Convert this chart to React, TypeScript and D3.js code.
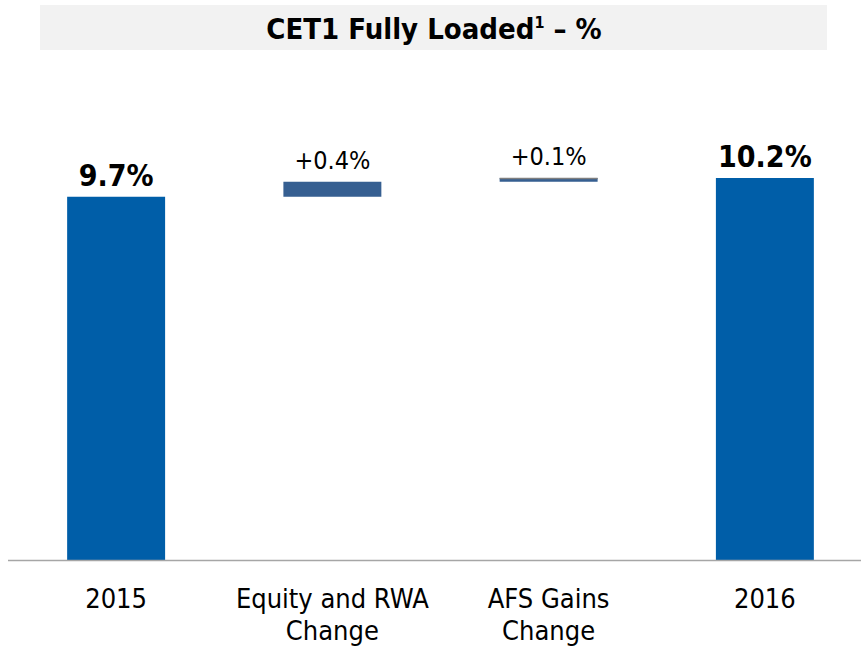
import * as d3 from 'd3';
import { useRef, useEffect } from 'react';

const categories = ['2015', 'Equity and RWA\nChange', 'AFS Gains\nChange', '2016'];
const values = [9.7, 0.4, 0.1, 10.2];
const kinds = ['total', 'delta', 'delta', 'total'];
const valueLabels = ['9.7%', '+0.4%', '+0.1%', '10.2%'];

const App = () => {
  const svgRef = useRef<SVGSVGElement>(null);

  useEffect(() => {
    const svg = d3.select(svgRef.current);
    const width = 861;
    const height = 647;
    const baseY = 560.5;
    const font = '"DejaVu Sans Condensed", "DejaVu Sans", sans-serif';
    const totalBlue = '#005ea8';
    const deltaBlue = '#365f91';

    svg.attr('width', width).attr('height', height);
    svg.selectAll('*').remove();

    // title band
    svg.append('rect')
      .attr('x', 40).attr('y', 5)
      .attr('width', 787).attr('height', 45)
      .attr('fill', '#f2f2f2');

    const title = svg.append('text')
      .attr('x', 434).attr('y', 39)
      .attr('text-anchor', 'middle')
      .style('font-family', font)
      .style('font-size', '29px')
      .style('font-weight', 'bold')
      .attr('fill', '#000');
    title.append('tspan').text('CET1 Fully Loaded');
    title.append('tspan').attr('font-size', '16px').attr('dy', -11).text('1');
    title.append('tspan').attr('dy', 11).text(' – %');

    const x = d3.scaleBand()
      .domain(categories)
      .range([8, 873])
      .paddingInner(0.547)
      .paddingOuter(0.2735);

    const y = d3.scaleLinear()
      .domain([0, 12])
      .range([baseY, baseY - 450]);

    // waterfall running totals
    let running = 0;
    const bars = categories.map((c, i) => {
      let lo, hi;
      if (kinds[i] === 'total') {
        lo = 0; hi = values[i]; running = values[i];
      } else {
        lo = running; hi = running + values[i]; running = hi;
      }
      return { c, lo, hi, kind: kinds[i], label: valueLabels[i] };
    });

    svg.selectAll('rect.bar')
      .data(bars)
      .enter().append('rect')
      .attr('class', 'bar')
      .attr('x', d => x(d.c))
      .attr('y', d => y(d.hi))
      .attr('width', x.bandwidth())
      .attr('height', d => y(d.lo) - y(d.hi))
      .attr('fill', d => d.kind === 'total' ? totalBlue : deltaBlue);

    // thin grey top edge on the small AFS step
    svg.append('line')
      .attr('x1', x(categories[2])).attr('x2', x(categories[2]) + x.bandwidth())
      .attr('y1', y(bars[2].hi) + 0.5).attr('y2', y(bars[2].hi) + 0.5)
      .attr('stroke', '#7f7f7f').attr('stroke-width', 1.5);

    svg.selectAll('text.val')
      .data(bars)
      .enter().append('text')
      .attr('class', 'val')
      .attr('x', d => x(d.c) + x.bandwidth() / 2)
      .attr('y', d => y(d.hi) - (d.kind === 'total' ? 11 : 13))
      .attr('text-anchor', 'middle')
      .style('font-family', font)
      .style('font-size', d => d.kind === 'total' ? '30px' : '25px')
      .style('font-weight', d => d.kind === 'total' ? 'bold' : 'normal')
      .attr('fill', '#000')
      .text(d => d.label);

    svg.append('line')
      .attr('x1', 8).attr('x2', width)
      .attr('y1', baseY).attr('y2', baseY)
      .attr('stroke', '#a6a6a6').attr('stroke-width', 1.5);

    const cat = svg.selectAll('text.cat')
      .data(categories)
      .enter().append('text')
      .attr('class', 'cat')
      .attr('x', d => x(d) + x.bandwidth() / 2)
      .attr('y', 608)
      .attr('text-anchor', 'middle')
      .style('font-family', font)
      .style('font-size', '27px')
      .attr('fill', '#000');

    cat.selectAll('tspan')
      .data(d => d.split('\n').map(t => ({ t, cx: x(d) + x.bandwidth() / 2 })))
      .enter().append('tspan')
      .attr('x', d => d.cx)
      .attr('dy', (d, i) => i === 0 ? 0 : 32)
      .text(d => d.t);
  }, []);

  return (
    <div style={{ position: 'absolute', left: 0, top: 0 }}>
      <svg ref={svgRef} style={{ display: 'block' }}></svg>
    </div>
  );
};

export default App;
